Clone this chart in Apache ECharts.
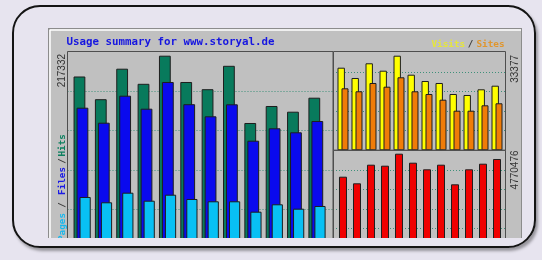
<!DOCTYPE html>
<html>
<head>
<meta charset="utf-8">
<script src="https://cdn.jsdelivr.net/npm/echarts@6/dist/echarts.min.js"></script>
<style>
  html, body { margin: 0; padding: 0; background: #e7e4ef; }
  body { width: 542px; height: 260px; position: relative; overflow: hidden; }
  #card {
    position: absolute; left: 12px; top: 5px; width: 520px; height: 239px;
    border: 2px solid #141414; border-radius: 28px;
    box-shadow: 2px 3px 3px rgba(0, 0, 0, 0.35);
  }
  /* the usage image is cut off at the bottom, like in the screenshot */
  #chart {
    position: absolute; left: 0; top: 0; width: 542px; height: 260px;
    background: #c0c0c0; clip-path: inset(28px 20px 22px 48px);
  }
</style>
</head>
<body>
<div id="card"></div>
<div id="chart"></div>
<script>
// 12 months of the usage summary (oldest on the left)
var months = ['M1', 'M2', 'M3', 'M4', 'M5', 'M6', 'M7', 'M8', 'M9', 'M10', 'M11', 'M12'];
var hits = [193860, 168245, 202662, 185625, 217332, 187656, 179531, 205934, 141390, 160574, 154142, 169938];
var files = [158654, 141728, 172195, 157526, 187654, 162604, 148950, 162491, 121417, 135409, 130896, 143647];
var pages = [57887, 51907, 62740, 53712, 60483, 55631, 53035, 53035, 41300, 49650, 44685, 47732];
var visits = [29143, 25509, 30696, 28085, 33377, 26674, 24451, 23745, 19864, 19511, 21522, 22793];
var sites = [21875, 20817, 23745, 22440, 25756, 20817, 19864, 17853, 13972, 13972, 15877, 16583];
var kbytes = [3610638, 3277814, 4215773, 4165345, 4770476, 4316628, 3983804, 4215773, 3227386, 3983804, 4266201, 4503212];
var maxLabels = ['217332', '33377', '4770476'];

var chart = echarts.init(document.getElementById('chart'), null, { renderer: 'canvas' });

function pairs(values) {
  return months.map(function (m, i) { return [i, values[i]]; });
}

var grid_line = { show: true, showMinLine: false, showMaxLine: false,
  lineStyle: { color: '#3f907a', width: 1, type: [1, 2] } };

function yAx(idx, max) {
  return {
    type: 'value', gridIndex: idx, min: 0, max: max, interval: max / 5,
    axisLine: { show: false }, axisTick: { show: false }, axisLabel: { show: false },
    splitLine: grid_line
  };
}
function xAx(idx, min, max) {
  return { type: 'value', gridIndex: idx, min: min, max: max, show: false };
}

var outline = { borderColor: '#1e1e1e', borderWidth: 1 };

function bar(name, xi, values, color, width, gap) {
  return {
    name: name, type: 'bar', xAxisIndex: xi, yAxisIndex: xi,
    data: pairs(values), barWidth: width, barGap: gap,
    itemStyle: Object.assign({ color: color }, outline),
    silent: true
  };
}

var mono = '"DejaVu Sans Mono", "Liberation Mono", monospace';
var sans = '"Liberation Sans", Arial, sans-serif';

// vertical texts, anchored at one end
function upText(txt, x, y, color, font, align) {
  return {
    type: 'text', x: x, y: y, rotation: Math.PI / 2, z: 110,
    style: { text: txt, fill: color, font: font, align: align || 'right', verticalAlign: 'middle' }
  };
}
function frame(x, y, w, h) {
  return {
    type: 'rect', z: 100, silent: true,
    shape: { x: x, y: y, width: w, height: h },
    style: { fill: 'none', stroke: '#4e4e4e', lineWidth: 1 }
  };
}
function line(x1, y1, x2, y2, color, w) {
  return {
    type: 'line', z: 100, silent: true,
    shape: { x1: x1, y1: y1, x2: x2, y2: y2 },
    style: { stroke: color, lineWidth: w || 1 }
  };
}

var option = {
  animation: false,
  grid: [
    { left: 67.5, top: 52, width: 265.5, height: 196.3 },
    { left: 333, top: 52.3, width: 172, height: 98 },
    { left: 333, top: 150.3, width: 172, height: 98 }
  ],
  xAxis: [
    xAx(0, -0.686, 11.749),
    xAx(1, -0.714, 11.571),
    xAx(2, -0.714, 11.571)
  ],
  yAxis: [
    yAx(0, 221505),
    yAx(1, 34575),
    yAx(2, 4941930)
  ],
  series: [
    bar('Hits', 0, hits, '#087a5c', 11.8, '-74.6%'),
    bar('Files', 0, files, '#0a0aee', 11.8, '-74.6%'),
    bar('Pages', 0, pages, '#08c0f4', 11.2, '-74.6%'),
    bar('Visits', 1, visits, '#ffff00', 7.4, '-46%'),
    bar('Sites', 1, sites, '#f07c08', 7, '-46%'),
    bar('KBytes', 2, kbytes, '#f00000', 8, '-46%')
  ],
  graphic: [
    // image bevel
    line(48.5, 28, 48.5, 260, '#8c8c8c'),
    line(48, 28.5, 522, 28.5, '#8c8c8c'),
    line(521.5, 28, 521.5, 260, '#8c8c8c'),
    line(50, 30, 521, 30, '#ffffff', 1.5),
    line(50, 30, 50, 260, '#ffffff', 1.5),
    // panels
    frame(67.5, 51.5, 265.5, 197),
    frame(333.5, 51.5, 172, 98.8),
    frame(333.5, 150.3, 172, 98),
    // title and legends
    {
      type: 'text', x: 66.5, y: 42.5, z: 110,
      style: { text: 'Usage summary for www.storyal.de', fill: '#1616e0',
        font: 'bold 10.8px ' + mono, align: 'left', verticalAlign: 'middle' }
    },
    {
      type: 'text', x: 431.5, y: 44.5, z: 110,
      style: { text: 'Visits', fill: '#e6e63a', font: 'bold 9.3px ' + mono, align: 'left', verticalAlign: 'middle' }
    },
    {
      type: 'text', x: 470.5, y: 44.5, z: 110,
      style: { text: '/', fill: '#3a3a3a', font: 'bold 9.3px ' + mono, align: 'center', verticalAlign: 'middle' }
    },
    {
      type: 'text', x: 476.5, y: 44.5, z: 110,
      style: { text: 'Sites', fill: '#e0962e', font: 'bold 9.3px ' + mono, align: 'left', verticalAlign: 'middle' }
    },
    upText('Pages', 62.5, 213, '#18b8ee', 'bold 9.3px ' + mono),
    upText('/', 62.5, 205, '#3a3a3a', 'bold 9.3px ' + mono, 'center'),
    upText('Files', 62.5, 167, '#1a1ae6', 'bold 9.3px ' + mono),
    upText('/', 62.5, 161, '#3a3a3a', 'bold 9.3px ' + mono, 'center'),
    upText('Hits', 62.5, 156.5, '#0e8060', 'bold 9.3px ' + mono, 'left'),
    // max value labels
    upText(maxLabels[0], 62.5, 54, '#333333', '10px ' + sans),
    upText(maxLabels[1], 515.5, 55, '#333333', '10px ' + sans),
    upText(maxLabels[2], 515.5, 150.5, '#333333', '10px ' + sans)
  ]
};

chart.setOption(option);
</script>
</body>
</html>
